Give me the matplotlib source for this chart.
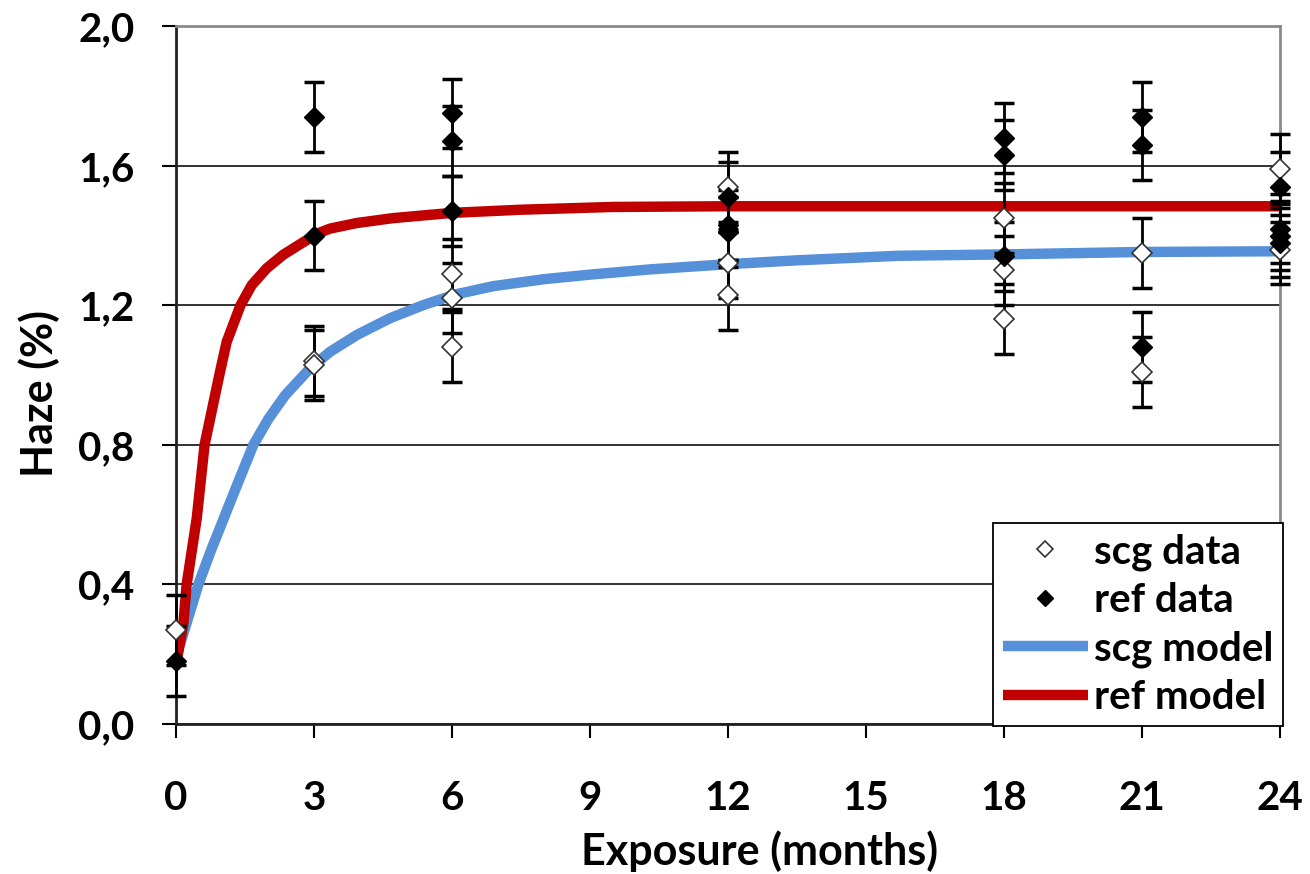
from matplotlib import pyplot as plt
from matplotlib.ticker import FuncFormatter

scg_x = [0, 3, 3, 6, 6, 6, 12, 12, 12, 18, 18, 18, 21, 21, 24, 24]
scg_y = [0.27, 1.04, 1.03, 1.29, 1.22, 1.08, 1.54, 1.32, 1.23, 1.45, 1.30, 1.16, 1.35, 1.01, 1.59, 1.36]
scg_err = [0.1] * len(scg_x)

ref_x = [0, 3, 3, 6, 6, 6, 12, 12, 12, 18, 18, 18, 21, 21, 21, 24, 24, 24, 24]
ref_y = [0.18, 1.74, 1.40, 1.75, 1.67, 1.47, 1.51, 1.43, 1.41, 1.68, 1.63, 1.34, 1.74, 1.66, 1.08,
         1.54, 1.42, 1.40, 1.38]
ref_err = [0.1] * len(ref_x)

# model curves, points
scg_model_x = [0, 0.23, 0.485, 0.74, 1.03, 1.32, 1.68, 2.01, 2.37, 2.91, 3.35, 3.93, 4.65, 5.38,
               6.10, 6.90, 8.0, 9.0, 10.3, 12.0, 13.5, 15.7, 18.0, 21.0, 24.0]
scg_model_y = [0.19, 0.29, 0.40, 0.491, 0.587, 0.683, 0.80, 0.875, 0.942, 1.019, 1.067, 1.115,
               1.163, 1.201, 1.232, 1.255, 1.275, 1.288, 1.303, 1.318, 1.329, 1.342, 1.346, 1.353, 1.355]

ref_model_x = [0, 0.16, 0.23, 0.45, 0.62, 0.78, 0.94, 1.10, 1.40, 1.645, 1.97, 2.33, 2.73, 3.06,
               3.35, 3.93, 4.72, 6.0, 7.48, 9.5, 12.0, 24.0]
ref_model_y = [0.17, 0.29, 0.40, 0.59, 0.80, 0.90, 1.00, 1.095, 1.20, 1.258, 1.306, 1.345, 1.378,
               1.405, 1.42, 1.436, 1.45, 1.465, 1.474, 1.482, 1.484, 1.484]

x_ticks = [0, 3, 6, 9, 12, 15, 18, 21, 24]
y_ticks = [0.0, 0.4, 0.8, 1.2, 1.6, 2.0]


if __name__ == '__main__':
    plt.rcParams['font.family'] = ['Lato', 'DejaVu Sans']
    plt.rcParams['font.weight'] = 'bold'

    fig = plt.figure(figsize=(13.1, 8.74), dpi=100)
    ax = fig.add_axes([0.1344, 0.1716, 0.8426, 0.7984])

    ax.plot(scg_model_x, scg_model_y, color="#5590D8", lw=7.5, solid_capstyle="butt",
            solid_joinstyle="round", label="scg model", zorder=2)
    ax.plot(ref_model_x, ref_model_y, color="#C00000", lw=7.5, solid_capstyle="butt",
            solid_joinstyle="round", label="ref model", zorder=2.1)

    ax.errorbar(scg_x, scg_y, yerr=scg_err, fmt="none", ecolor="k", elinewidth=2,
                capsize=7, capthick=2.5, clip_on=False, zorder=3)
    ax.errorbar(ref_x, ref_y, yerr=ref_err, fmt="none", ecolor="k", elinewidth=2,
                capsize=7, capthick=2.5, clip_on=False, zorder=3)
    ax.plot(scg_x, scg_y, "D", ms=10, mfc="white", mec="#333333", mew=1.2,
            label="scg data", clip_on=False, zorder=4)
    ax.plot(ref_x, ref_y, "D", ms=10, mfc="black", mec="black", mew=1,
            label="ref data", clip_on=False, zorder=5)

    ax.set_xlim(0, 24)
    ax.set_ylim(0, 2.0)
    ax.set_xticks(x_ticks)
    ax.set_yticks(y_ticks)
    ax.yaxis.set_major_formatter(FuncFormatter(lambda v, p: ("%.1f" % v).replace(".", ",")))
    ax.tick_params(axis="both", direction="out", length=10, width=1.5, labelsize=29)
    ax.tick_params(axis="y", pad=20)
    ax.tick_params(axis="x", pad=30)

    ax.grid(axis="y", color="#222222", lw=1.3)
    ax.set_axisbelow(True)
    for side in ["left", "bottom"]:
        ax.spines[side].set_color("#222222")
        ax.spines[side].set_linewidth(2)
    for side in ["top", "right"]:
        ax.spines[side].set_color("#8a8a8a")
        ax.spines[side].set_linewidth(2)

    ax.set_xlabel("Exposure (months)", fontsize=31, fontweight="bold")
    ax.set_ylabel("Haze (%)", fontsize=31, fontweight="bold")
    ax.xaxis.set_label_coords(0.529, -0.152)
    ax.yaxis.set_label_coords(-0.105, 0.474)

    handles, labels = ax.get_legend_handles_labels()
    order = [2, 3, 0, 1]
    leg = ax.legend([handles[i] for i in order], [labels[i] for i in order],
                    loc="lower right", bbox_to_anchor=(1.003, -0.003), fontsize=29,
                    fancybox=False, framealpha=1, edgecolor="black", handlelength=2.1,
                    handletextpad=0.15, borderpad=0.25, labelspacing=0.28, borderaxespad=0,
                    markerscale=0.8)
    leg.get_frame().set_linewidth(1.3)
    leg.set_zorder(10)

    fig.savefig("out.png", dpi=100)
